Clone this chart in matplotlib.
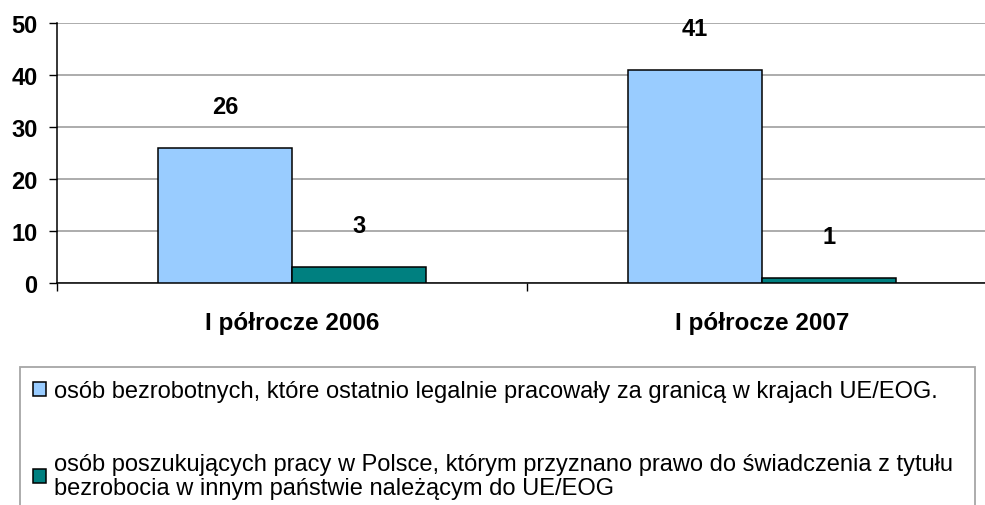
import matplotlib as mpl
mpl.use('Agg')
import matplotlib.pyplot as plt
import numpy as np
from matplotlib.patches import Patch

categories = ['I półrocze 2006', 'I półrocze 2007']
series_names = [
    'osób bezrobotnych, które ostatnio legalnie pracowały za granicą w krajach UE/EOG.',
    'osób poszukujących pracy w Polsce, którym przyznano prawo do świadczenia z tytułu\n'
    'bezrobocia w innym państwie należącym do UE/EOG',
]
unemployed_abroad = [26, 41]
benefit_granted = [3, 1]
colors = ['#99ccff', '#008080']

plt.rcParams['font.family'] = ['Liberation Sans', 'DejaVu Sans']

fig = plt.figure(figsize=(9.85, 5.06), dpi=100)
ax = fig.add_axes([57 / 985, (506 - 284) / 506, 940 / 985, 260 / 506])

centers = np.arange(len(categories)) + 0.5
w = 0.285
series = [unemployed_abroad, benefit_granted]
for i, vals in enumerate(series):
    xs = centers + (i - 0.5) * w
    ax.bar(xs, vals, width=w, color=colors[i], edgecolor='black',
           linewidth=1.1, zorder=3)
    for x, v in zip(xs, vals):
        ax.annotate(str(v), (x, v), xytext=(0, 30), textcoords='offset points',
                    ha='center', va='center', fontsize=17, fontweight='bold')

ax.set_xlim(0, 2)
ax.set_ylim(0, 50)
ax.set_yticks(range(0, 51, 10))
ax.yaxis.grid(True, color='#a6a6a6', linewidth=1.3, zorder=0)
ax.set_axisbelow(True)
for lab in ax.get_yticklabels():
    lab.set_fontweight('bold')
ax.tick_params(axis='y', labelsize=17, length=6, width=1, pad=8)

ax.set_xticks([0, 1, 2])
ax.set_xticklabels([])
ax.set_xticks(centers, minor=True)
ax.set_xticklabels(categories, minor=True, fontsize=17.5, fontweight='bold')
ax.tick_params(axis='x', which='major', length=6, width=1)
ax.tick_params(axis='x', which='minor', length=0, pad=20)

for s in ['top', 'right']:
    ax.spines[s].set_visible(False)
for s in ['left', 'bottom']:
    ax.spines[s].set_linewidth(1.1)

handles = [Patch(facecolor=c, edgecolor='black', linewidth=1.1) for c in colors]
leg = fig.legend(handles, series_names, loc='upper left',
                 bbox_to_anchor=(20 / 985, 1 - 368 / 506, 955 / 985, 0),
                 mode='expand', borderaxespad=0, fontsize=17, frameon=True,
                 fancybox=False, edgecolor='#909090', borderpad=0.55,
                 handlelength=0.55, handleheight=0.55, handletextpad=0.35,
                 labelspacing=2.15)
leg.get_frame().set_linewidth(1.3)
for t in leg.get_texts():
    t.set_linespacing(1.15)

fig.savefig('out.png', dpi=100)
plt.close('all')
